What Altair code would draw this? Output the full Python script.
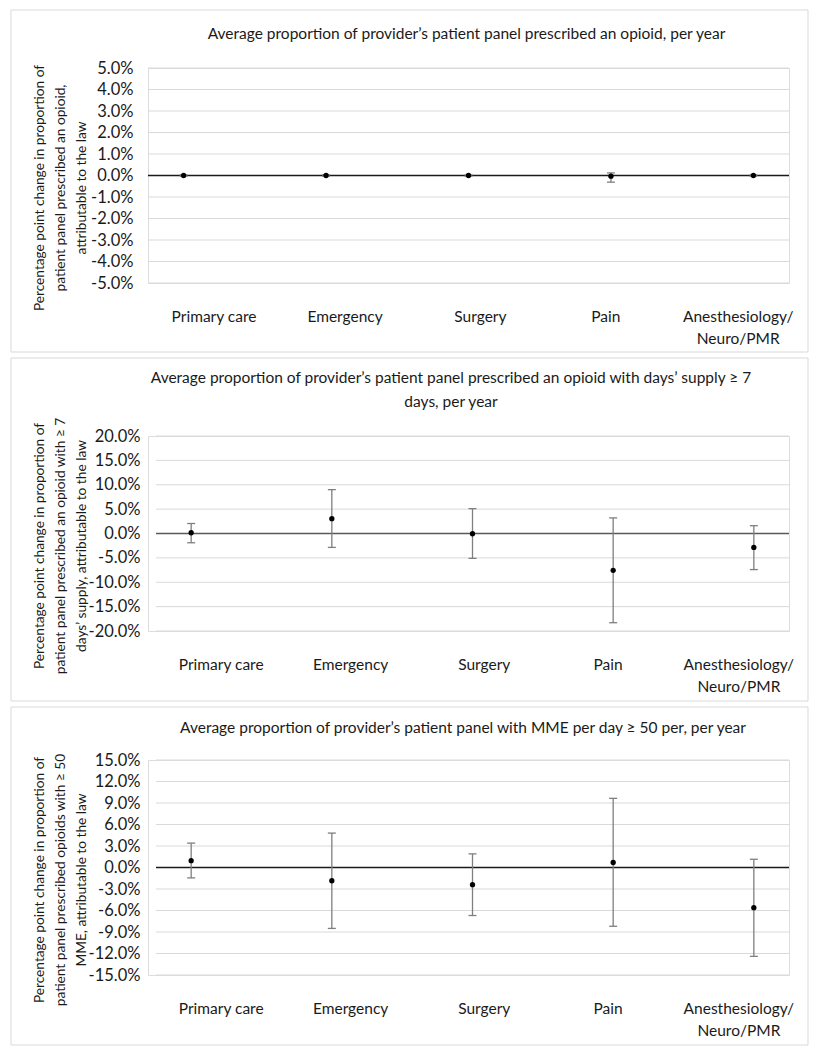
import json
import altair as alt
import pandas as pd

# ---------------- data ----------------
CATEGORIES = ["Primary care", "Emergency", "Surgery", "Pain", "Anesthesiology/Neuro/PMR"]
CATEGORY_LABEL_LINES = [["Primary care"], ["Emergency"], ["Surgery"], ["Pain"],
                        ["Anesthesiology/", "Neuro/PMR"]]

# Panel 1: any opioid (percentage points)
P1_EST = [0.0, 0.0, 0.0, -0.03, 0.0]
P1_LO = [-0.03, -0.03, -0.03, -0.31, -0.03]
P1_HI = [0.03, 0.03, 0.03, 0.12, 0.03]
P1_TICKS = [-5, -4, -3, -2, -1, 0, 1, 2, 3, 4, 5]

# Panel 2: days' supply >= 7
P2_EST = [0.15, 3.05, -0.05, -7.55, -2.85]
P2_LO = [-1.9, -2.85, -5.1, -18.3, -7.4]
P2_HI = [2.05, 9.0, 5.1, 3.2, 1.6]
P2_TICKS = [-20, -15, -10, -5, 0, 5, 10, 15, 20]

# Panel 3: MME >= 50
P3_EST = [0.95, -1.85, -2.4, 0.7, -5.6]
P3_LO = [-1.45, -8.5, -6.7, -8.2, -12.4]
P3_HI = [3.4, 4.8, 1.9, 9.65, 1.15]
P3_TICKS = [-15, -12, -9, -6, -3, 0, 3, 6, 9, 12, 15]

TITLES = [
    ["Average proportion of provider\u2019s patient panel prescribed an opioid, per year"],
    ["Average proportion of provider\u2019s patient panel prescribed an opioid with days\u2019 supply \u2265 7",
     "days, per year"],
    ["Average proportion of provider\u2019s patient panel with MME per day \u2265 50 per, per year"],
]
Y_TITLES = [
    ["Percentage point change in proportion of", "patient panel prescribed an opioid,",
     "attributable to the law"],
    ["Percentage point change in proportion of", "patient panel prescribed an opioid with \u2265 7",
     "days\u2019 supply, attributable to the law"],
    ["Percentage point change in proportion of", "patient panel prescribed opioids with \u2265 50",
     "MME, attributable to the law"],
]

# ---------------- style / layout ----------------
FONT = "Lato"
TXT = "#1a1a1a"
GRID = "#d9d9d9"
BAR = "#7f7f7f"
W = 641
X_LABEL_TICKS = [1.21, 2.13, 3.08, 3.96, 4.89]

label_expr_x = (json.dumps(CATEGORY_LABEL_LINES) + "[indexof(" + json.dumps(X_LABEL_TICKS)
                + ", datum.value)]")
label_expr_y = "(datum.value < 0 ? '-' : '') + format(abs(datum.value), '.1f') + '%'"


def panel(est, lo, hi, ticks, title_lines, ytitle, h, x0, label_pad, frame_top, frame_bottom,
          title_cx, title_cy, zero_color):
    df = pd.DataFrame({"pos": list(range(1, len(CATEGORIES) + 1)), "category": CATEGORIES,
                       "est": est, "lo": lo, "hi": hi})
    xscale = alt.Scale(domain=[0.75, 5.25], range=[x0, W], nice=False, zero=False)
    yscale = alt.Scale(domain=[ticks[0], ticks[-1]], nice=False, zero=False)
    xaxis = alt.Axis(values=X_LABEL_TICKS, labelExpr=label_expr_x, grid=False, domain=False,
                     ticks=False, labelPadding=26, labelFont=FONT, labelFontSize=15.5,
                     labelColor=TXT, labelLineHeight=22, labelOverlap=False, labelFlush=False,
                     labelBaseline="top", title=None)
    yaxis = alt.Axis(values=ticks, labelExpr=label_expr_y, grid=False, domain=False, ticks=False,
                     labelPadding=label_pad, labelFont=FONT, labelFontSize=16.5, labelColor=TXT,
                     labelOverlap=False, labelSeparation=0, title=ytitle, titleFont=FONT,
                     titleFontSize=13.7, titleFontWeight="normal", titleColor=TXT,
                     titleLineHeight=21, titleX=-102, titleY=h / 2 + 12, titleAngle=-90,
                     titleAlign="center", titleBaseline="bottom")
    X = alt.X("pos:Q", scale=xscale, axis=xaxis)

    one = pd.DataFrame({"k": [0]})
    frame = alt.Chart(one).mark_rect(fillOpacity=0, stroke=GRID, strokeWidth=1).encode(
        x=alt.value(10 - 147), x2=alt.value(807 - 147),
        y=alt.value(frame_top), y2=alt.value(frame_bottom))
    grid = alt.Chart(pd.DataFrame({"v": ticks})).mark_rule(color=GRID, strokeWidth=1).encode(
        y=alt.Y("v:Q", scale=yscale, axis=yaxis), x=alt.value(x0), x2=alt.value(W))
    zero = alt.Chart(one).mark_rule(color=zero_color, strokeWidth=1.5).encode(
        y=alt.Y(datum=0, scale=yscale, axis=yaxis), x=alt.value(x0), x2=alt.value(W))
    base = alt.Chart(df)
    err = base.mark_rule(color=BAR, strokeWidth=1.3).encode(
        x=X, y=alt.Y("lo:Q", scale=yscale, axis=yaxis), y2="hi:Q")
    cap_lo = base.mark_tick(orient="horizontal", size=8, thickness=1.3, color=BAR, opacity=1).encode(
        x=X, y=alt.Y("lo:Q", scale=yscale, axis=yaxis))
    cap_hi = base.mark_tick(orient="horizontal", size=8, thickness=1.3, color=BAR, opacity=1).encode(
        x=X, y=alt.Y("hi:Q", scale=yscale, axis=yaxis))
    pts = base.mark_circle(size=28, color="black", opacity=1).encode(
        x=X, y=alt.Y("est:Q", scale=yscale, axis=yaxis))
    title = alt.Chart(one).mark_text(font=FONT, fontSize=15.5, color=TXT, align="center",
                                     baseline="middle", lineHeight=24).encode(
        x=alt.value(title_cx), y=alt.value(title_cy), text=alt.value(title_lines))
    return alt.layer(frame, grid, zero, err, cap_lo, cap_hi, pts, title).properties(
        width=W, height=h)


p1 = panel(P1_EST, P1_LO, P1_HI, P1_TICKS, TITLES[0], Y_TITLES[0], 215, 0, 15,
           9 - 67, 351 - 67, 465.5 - 147, 33 - 67, "#1a1a1a")
p2 = panel(P2_EST, P2_LO, P2_HI, P2_TICKS, TITLES[1], Y_TITLES[1], 195, 8, 8,
           354 - 432, 697 - 432, 450 - 147, 374 - 432, "#595959")
p3 = panel(P3_EST, P3_LO, P3_HI, P3_TICKS, TITLES[2], Y_TITLES[2], 215, 8, 8,
           704 - 757, 1042 - 757, 462 - 147, 725 - 757, "#1a1a1a")

chart = alt.vconcat(p1, p2, p3, spacing=4).properties(
    padding={"left": 2, "top": 1, "right": 2, "bottom": 2}
).configure_view(stroke=None).configure_axis(labelOverlap=False).configure(background="white")

chart.save("out.html", embed_options={"renderer": "svg", "actions": False})
